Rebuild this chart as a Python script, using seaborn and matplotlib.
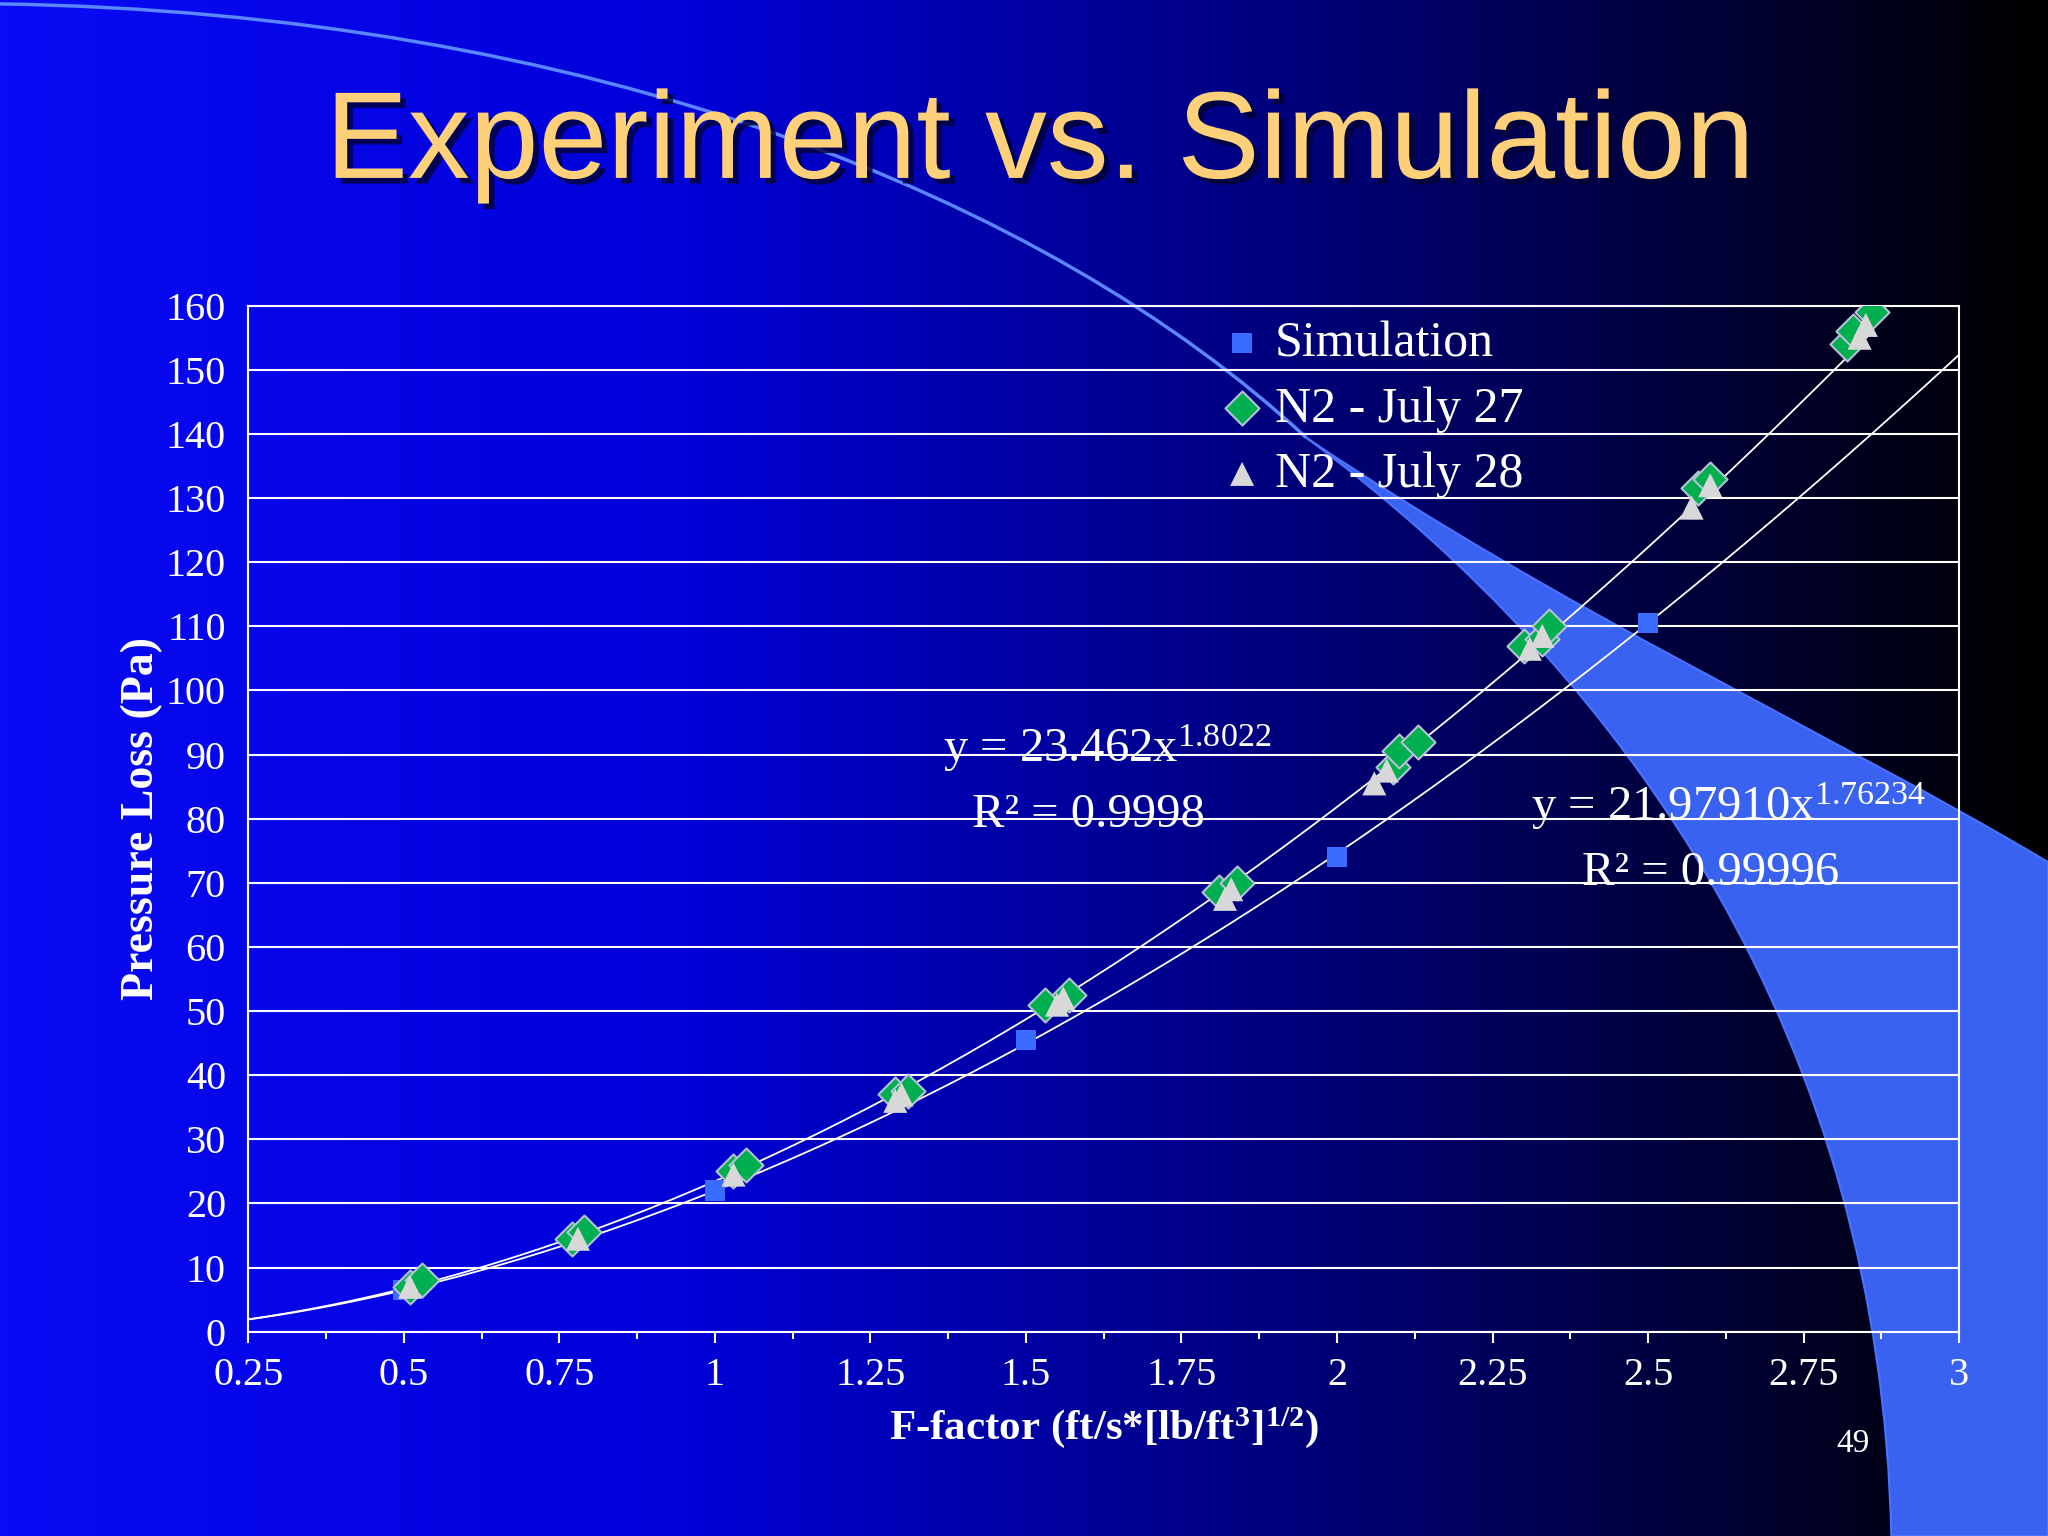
import numpy as np
import pandas as pd
import matplotlib
matplotlib.use('Agg')
import matplotlib.pyplot as plt
import seaborn as sns
from matplotlib.colors import LinearSegmentedColormap
from matplotlib.path import Path
from matplotlib.patches import PathPatch
import matplotlib.patheffects as pe

# data
sim_x = [0.5, 1.0, 1.5, 2.0, 2.5]
sim_y = [6.5, 22.0, 45.5, 74.0, 110.5]

j27_x = [0.51, 0.53, 0.77, 0.79, 1.03, 1.05, 1.29, 1.31, 1.53, 1.57, 1.81, 1.84,
         2.09, 2.10, 2.13, 2.30, 2.33, 2.34, 2.58, 2.60, 2.82, 2.83, 2.86]
j27_y = [7, 8, 14.5, 15.5, 25, 26, 37, 37.5, 51, 52.5, 68.5, 70,
         88, 90.5, 92, 107, 108, 110, 131.5, 133, 154, 156, 159]

j28_x = [0.51, 0.78, 1.03, 1.29, 1.30, 1.55, 1.56, 1.82, 1.83, 2.06, 2.08,
         2.31, 2.33, 2.57, 2.60, 2.84, 2.85]
j28_y = [7, 14.5, 24.5, 36, 37, 51, 52, 67.5, 69, 85.5, 87.5,
         106.5, 108.5, 128.5, 132, 155, 157]

# trendlines as printed on the chart
fit_exp = (23.462, 1.8022)
fit_sim = (21.97910, 1.76234)

sns.set_theme(style='white')
plt.rcParams['font.family'] = ['Liberation Serif', 'DejaVu Serif']
plt.rcParams.update({'mathtext.fontset': 'custom',
                     'mathtext.rm': 'Liberation Serif',
                     'mathtext.bf': 'Liberation Serif:bold',
                     'mathtext.it': 'Liberation Serif:italic'})

fig = plt.figure(figsize=(20.48, 15.36), dpi=100)

# slide background: blue to black gradient with decorative arc
bg = fig.add_axes([0, 0, 1, 1], zorder=0)
cmap = LinearSegmentedColormap.from_list('slide', ['#0a0af5', '#0000d8', '#000070', '#000000'])
grad = np.tile(np.linspace(0, 1, 512), (2, 1))
bg.imshow(grad, aspect='auto', cmap=cmap, extent=[0, 1568, 1176, 0])
bg.set_xlim(0, 1568)
bg.set_ylim(1176, 0)
bg.axis('off')
C4 = Path.CURVE4
thin = Path([(0, 3), (450, 10), (800, 150), (1000, 335)], [Path.MOVETO, C4, C4, C4])
bg.add_patch(PathPatch(thin, fill=False, edgecolor='#5a86ff', lw=2.5))
band = Path([(1000, 335), (1200, 470), (1400, 560), (1568, 660),
             (1568, 1176), (1448, 1176),
             (1440, 800), (1250, 520), (1000, 335), (1000, 335)],
            [Path.MOVETO, C4, C4, C4, Path.LINETO, Path.LINETO, C4, C4, C4, Path.CLOSEPOLY])
bg.add_patch(PathPatch(band, facecolor='#3a62f0', edgecolor='#4a72ff', lw=1.5))

fig.text(0.508, 0.905, 'Experiment vs. Simulation', ha='center', va='center',
         family='Liberation Sans', fontsize=89, color='#ffd07a',
         path_effects=[pe.withSimplePatchShadow(offset=(4, -4), shadow_rgbFace='#000033', alpha=0.8)])

ax = fig.add_axes([0.1212, 0.133, 0.8354, 0.668], zorder=1)
ax.patch.set_alpha(0)

xs = np.linspace(0.25, 2.86, 200)
ax.plot(xs, fit_exp[0] * xs ** fit_exp[1], color='white', lw=1.3)
xs2 = np.linspace(0.25, 3.0, 200)
ax.plot(xs2, fit_sim[0] * xs2 ** fit_sim[1], color='white', lw=1.3)

sns.scatterplot(x=sim_x, y=sim_y, marker='s', s=220, color='#3a6cff', edgecolor='none',
                ax=ax, label='Simulation', zorder=3)
sns.scatterplot(x=j27_x, y=j27_y, marker='D', s=300, color='#00b050', edgecolor='#b8c0d8',
                linewidth=1.5, ax=ax, label='N2 - July 27', zorder=4)
sns.scatterplot(x=j28_x, y=j28_y, marker='^', s=300, color='#d8d8d8', edgecolor='none',
                ax=ax, label='N2 - July 28', zorder=5)

ax.set_xlim(0.25, 3.0)
ax.set_ylim(0, 160)
ax.set_xticks(np.arange(0.25, 3.01, 0.25))
ax.set_xticklabels(['0.25', '0.5', '0.75', '1', '1.25', '1.5', '1.75', '2', '2.25', '2.5', '2.75', '3'])
ax.set_xticks(np.arange(0.25, 3.0, 0.125), minor=True)
ax.set_yticks(np.arange(0, 161, 10))
ax.yaxis.grid(True, color='white', lw=1.5)
ax.xaxis.grid(False)
for s in ax.spines.values():
    s.set_color('white')
    s.set_linewidth(1.5)
ax.tick_params(axis='both', colors='white', labelsize=29, length=8, width=1.5, direction='out')
ax.tick_params(axis='x', which='minor', colors='white', length=5, width=1.5, direction='out', bottom=True)
ax.tick_params(axis='x', bottom=True, pad=10)
ax.tick_params(axis='y', left=False, pad=8)

ax.set_xlabel(r'F-factor (ft/s*[lb/ft$^\mathbf{3}$]$^\mathbf{1/2}$)', color='white',
              fontsize=31, fontweight='bold', labelpad=8)
ax.set_ylabel('Pressure Loss (Pa)', color='white', fontsize=33, fontweight='bold', labelpad=2)

ax.text(1.63, 91, r'y = 23.462x$^{1.8022}$', color='white', fontsize=35, ha='center', va='center')
ax.text(1.6, 80.5, 'R² = 0.9998', color='white', fontsize=35, ha='center', va='center')
ax.text(2.63, 82, r'y = 21.97910x$^{1.76234}$', color='white', fontsize=35, ha='center', va='center')
ax.text(2.6, 71.5, 'R² = 0.99996', color='white', fontsize=35, ha='center', va='center')

leg = ax.legend(loc='upper left', bbox_to_anchor=(0.54, 1.005), frameon=False, fontsize=36,
                handletextpad=-0.35, labelspacing=0.38, borderaxespad=0, markerscale=1.0)
for t in leg.get_texts():
    t.set_color('white')

fig.text(0.905, 0.055, '49', color='white', fontsize=24, ha='center')

fig.savefig('out.png', dpi=100)
